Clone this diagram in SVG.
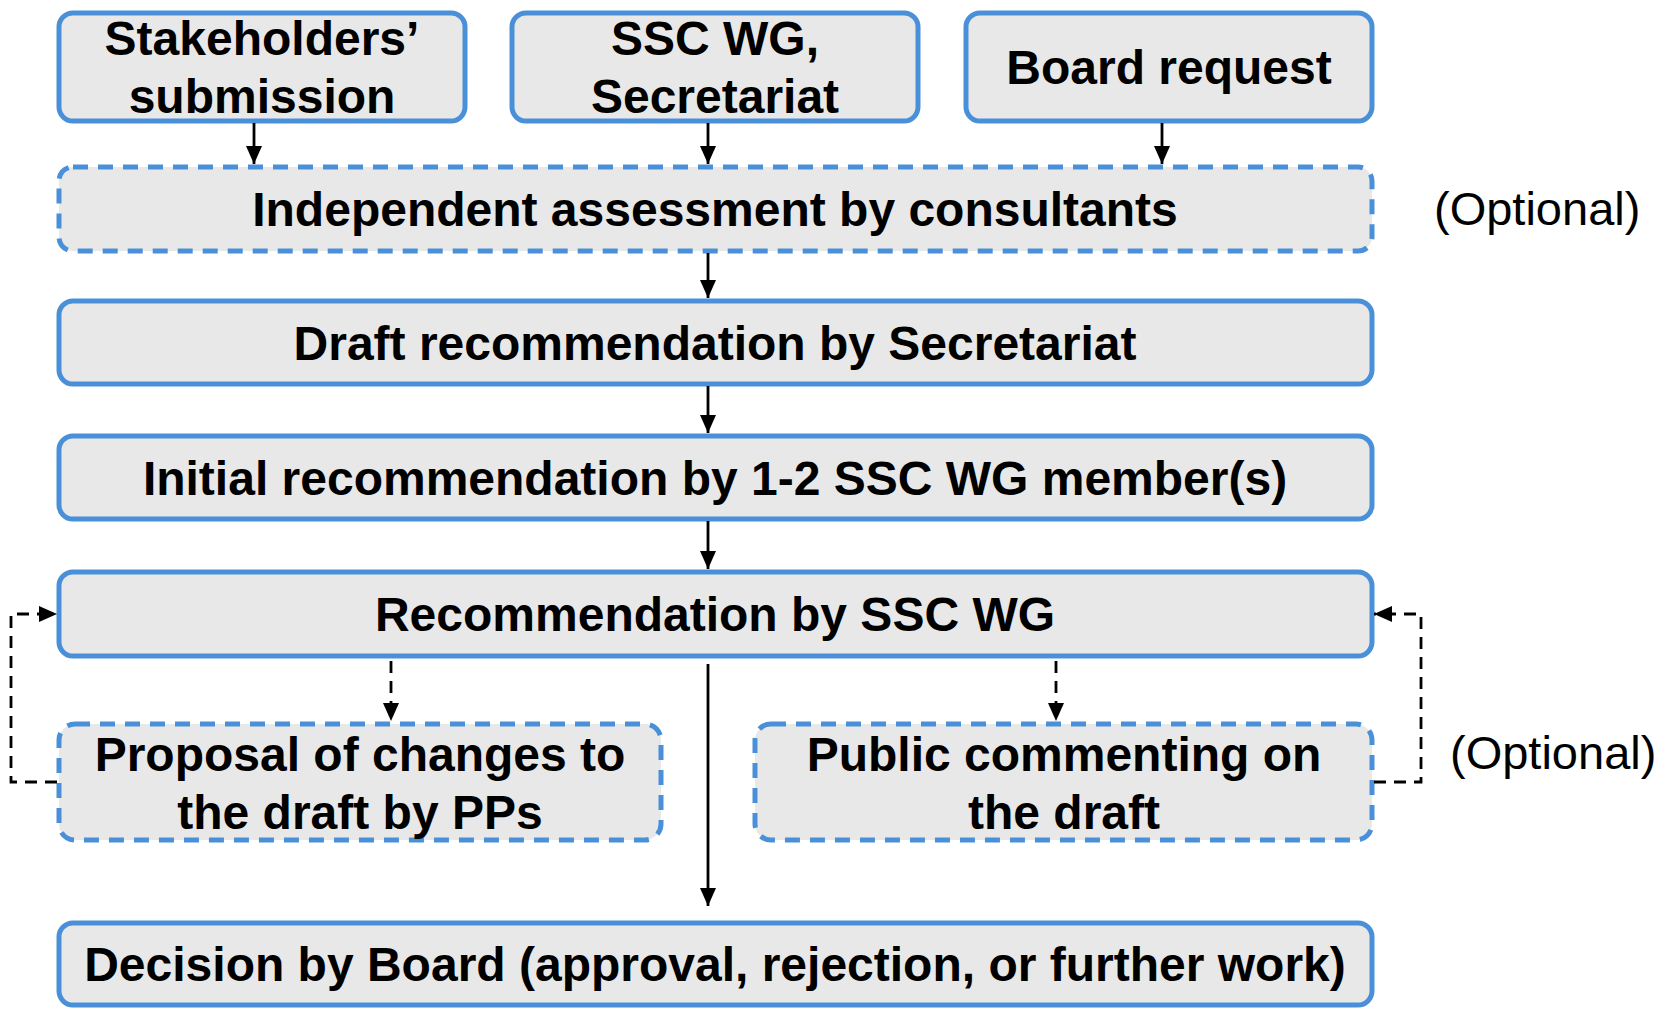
<svg xmlns="http://www.w3.org/2000/svg" width="1672" height="1009" viewBox="0 0 1672 1009">
<defs>
<style>
.box{fill:#e8e8e8;stroke:#4a90d9;stroke-width:5}
.dbox{fill:#e8e8e8;stroke:#4a90d9;stroke-width:5;stroke-dasharray:15 10}
.t{font-family:"Liberation Sans",Arial,sans-serif;font-weight:bold;font-size:48px;fill:#000;text-anchor:middle}
.opt{font-family:"Liberation Sans",Arial,sans-serif;font-size:47px;fill:#000}
.c{fill:none;stroke:#000;stroke-width:2.8}
.cd{fill:none;stroke:#000;stroke-width:2.8;stroke-dasharray:12 8}
</style>
<marker id="ah" viewBox="0 0 18 16" refX="18" refY="8" markerWidth="18" markerHeight="16" markerUnits="userSpaceOnUse" orient="auto">
<path d="M0,0 L18,8 L0,16 Z" fill="#000"/>
</marker>
</defs>
<rect width="1672" height="1009" fill="#fff"/>
<g id="n-stakeholders">
<rect class="box" x="59" y="13" width="406" height="108" rx="14"/>
<text class="t" x="262" y="55">Stakeholders’</text>
<text class="t" x="262" y="113">submission</text>
</g>
<g id="n-sscwg">
<rect class="box" x="512" y="13" width="406" height="108" rx="14"/>
<text class="t" x="715" y="55">SSC WG,</text>
<text class="t" x="715" y="113">Secretariat</text>
</g>
<g id="n-board">
<rect class="box" x="966" y="13" width="406" height="108" rx="14"/>
<text class="t" x="1169" y="84">Board request</text>
</g>
<g id="n-independent">
<rect class="dbox" x="59" y="167" width="1313" height="84" rx="14"/>
<text class="t" x="715" y="226">Independent assessment by consultants</text>
</g>
<text class="opt" x="1434" y="225">(Optional)</text>
<g id="n-draft">
<rect class="box" x="59" y="301" width="1313" height="83" rx="14"/>
<text class="t" x="715" y="360">Draft recommendation by Secretariat</text>
</g>
<g id="n-initial">
<rect class="box" x="59" y="436" width="1313" height="83" rx="14"/>
<text class="t" x="715" y="495">Initial recommendation by 1-2 SSC WG member(s)</text>
</g>
<g id="n-rec">
<rect class="box" x="59" y="572" width="1313" height="84" rx="14"/>
<text class="t" x="715" y="631">Recommendation by SSC WG</text>
</g>
<g id="n-proposal">
<rect class="dbox" x="59" y="724" width="602" height="116" rx="16"/>
<text class="t" x="360" y="771">Proposal of changes to</text>
<text class="t" x="360" y="829">the draft by PPs</text>
</g>
<g id="n-public">
<rect class="dbox" x="755" y="724" width="617" height="116" rx="16"/>
<text class="t" x="1064" y="771">Public commenting on</text>
<text class="t" x="1064" y="829">the draft</text>
</g>
<text class="opt" x="1450" y="769">(Optional)</text>
<g id="n-decision">
<rect class="box" x="59" y="923" width="1313" height="82" rx="14"/>
<text class="t" x="715" y="981">Decision by Board (approval, rejection, or further work)</text>
</g>
<g id="connectors">
<path class="c" d="M254,123 V164" marker-end="url(#ah)"/>
<path class="c" d="M708,123 V164" marker-end="url(#ah)"/>
<path class="c" d="M1162,123 V164" marker-end="url(#ah)"/>
<path class="c" d="M708,253 V298" marker-end="url(#ah)"/>
<path class="c" d="M708,386 V433" marker-end="url(#ah)"/>
<path class="c" d="M708,521 V569" marker-end="url(#ah)"/>
<path class="c" d="M708,664 V906" marker-end="url(#ah)"/>
<path class="cd" d="M391,661 V721" marker-end="url(#ah)"/>
<path class="cd" d="M1056,661 V721" marker-end="url(#ah)"/>
<path class="cd" d="M57,782 H11 V614 H57" marker-end="url(#ah)"/>
<path class="cd" d="M1374,782 H1421 V614 H1374" marker-end="url(#ah)"/>
</g>
</svg>
